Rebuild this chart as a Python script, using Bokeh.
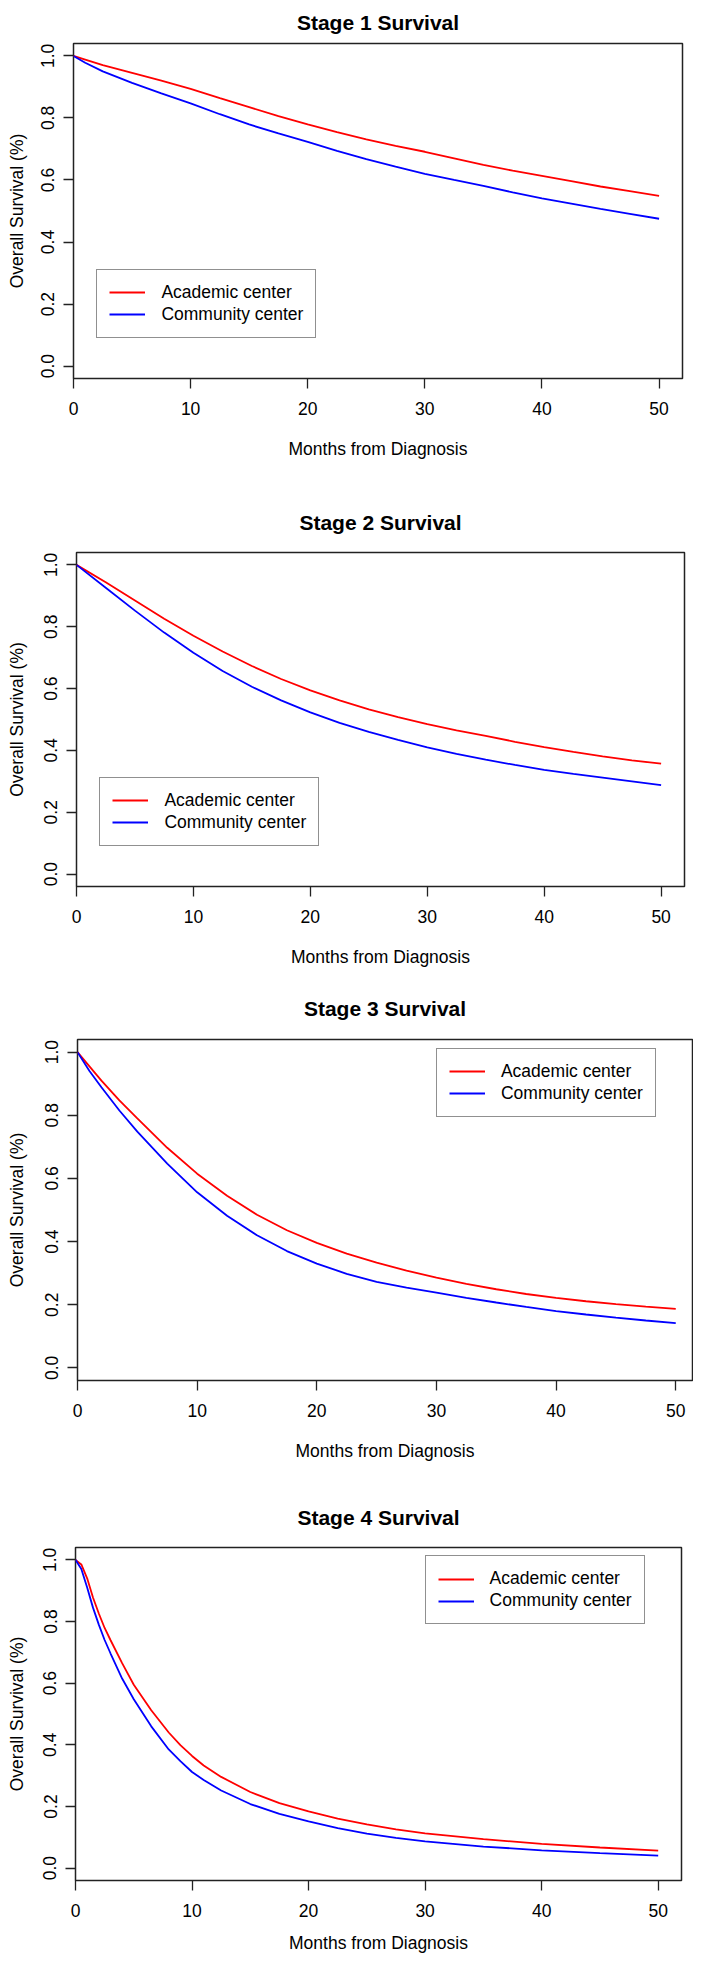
import math
from bokeh.plotting import figure
from bokeh.models import Range1d, FixedTicker, NumeralTickFormatter, Legend, LegendItem
from bokeh.layouts import column
from bokeh.embed import file_html
from bokeh.resources import INLINE

# ---------------- data ----------------
stage_titles = ["Stage 1 Survival", "Stage 2 Survival", "Stage 3 Survival", "Stage 4 Survival"]
series_names = ["Academic center", "Community center"]
x_label = "Months from Diagnosis"
y_label = "Overall Survival (%)"
x_ticks = [0, 10, 20, 30, 40, 50]
y_ticks = [0.0, 0.2, 0.4, 0.6, 0.8, 1.0]

months_stage1 = [0, 1, 2.5, 5, 7.5, 10, 12.5, 15, 17.5, 20, 22.5, 25, 27.5, 30, 32.5, 35, 37.5, 40, 42.5, 45, 47.5, 50]
academic_stage1 = [1.0, 0.988, 0.970, 0.945, 0.920, 0.894, 0.864, 0.835, 0.806, 0.779, 0.754, 0.731, 0.710, 0.691,
                   0.670, 0.649, 0.630, 0.613, 0.596, 0.579, 0.564, 0.549]
community_stage1 = [1.0, 0.978, 0.950, 0.913, 0.879, 0.847, 0.812, 0.779, 0.750, 0.723, 0.694, 0.667, 0.643, 0.620,
                    0.600, 0.581, 0.560, 0.541, 0.524, 0.507, 0.491, 0.475]

months_stage2 = [0, 2.5, 5, 7.5, 10, 12.5, 15, 17.5, 20, 22.5, 25, 27.5, 30, 32.5, 35, 37.5, 40, 42.5, 45, 47.5, 50]
academic_stage2 = [1.0, 0.944, 0.885, 0.826, 0.771, 0.720, 0.673, 0.631, 0.594, 0.562, 0.533, 0.508, 0.485,
                   0.465, 0.447, 0.428, 0.411, 0.395, 0.381, 0.368, 0.357]
community_stage2 = [1.0, 0.926, 0.852, 0.781, 0.716, 0.657, 0.606, 0.562, 0.523, 0.489, 0.460, 0.434, 0.410,
                    0.389, 0.370, 0.353, 0.337, 0.324, 0.312, 0.300, 0.288]

months_stage3 = [0, 1, 2, 3.5, 5, 7.5, 10, 12.5, 15, 17.5, 20, 22.5, 25, 27.5, 30, 32.5, 35, 37.5, 40, 42.5, 45, 47.5, 50]
academic_stage3 = [1.0, 0.955, 0.910, 0.847, 0.790, 0.697, 0.615, 0.545, 0.485, 0.436, 0.396, 0.362, 0.333, 0.308,
                   0.286, 0.266, 0.249, 0.234, 0.222, 0.211, 0.202, 0.194, 0.187]
community_stage3 = [1.0, 0.940, 0.889, 0.815, 0.748, 0.647, 0.556, 0.482, 0.420, 0.370, 0.330, 0.298, 0.272, 0.254,
                    0.238, 0.222, 0.207, 0.193, 0.180, 0.169, 0.159, 0.150, 0.142]

months_stage4 = [0, 0.5, 1, 1.5, 2, 2.5, 3, 4, 5, 6.5, 8, 9, 10, 11, 12.5, 15, 17.5, 20, 22.5, 25, 27.5, 30,
                 35, 40, 45, 50]
academic_stage4 = [1.0, 0.985, 0.940, 0.878, 0.826, 0.779, 0.740, 0.665, 0.595, 0.512, 0.440, 0.399, 0.364, 0.333,
                   0.296, 0.247, 0.211, 0.184, 0.161, 0.142, 0.126, 0.113, 0.094, 0.079, 0.067, 0.057]
community_stage4 = [1.0, 0.970, 0.910, 0.845, 0.790, 0.740, 0.697, 0.615, 0.548, 0.460, 0.385, 0.347, 0.312, 0.286,
                    0.252, 0.208, 0.176, 0.152, 0.130, 0.112, 0.098, 0.087, 0.070, 0.058, 0.049, 0.041]

# legend anchor (top-left corner, data units) per panel
legend_anchor = [(2, 0.3), (2, 0.3), (30, 1.0), (30, 1.0)]

# ---------------- layout / style ----------------
FONT = "Liberation Sans"
W = 693
geoms = [
    dict(h=480, l=73, r=11, t=43, b=102, xmax=52.0, ts=15, xs=21),
    dict(h=492, l=76, r=9, t=72, b=86, xmax=52.0, ts=34, xs=21),
    dict(h=494, l=77, r=1, t=67, b=86, xmax=51.4, ts=35, xs=21),
    dict(h=490, l=75, r=12, t=81, b=76, xmax=52.0, ts=33, xs=13),
]
LEG_PAD, LEG_SPACING, LEG_ROW = 12, 1, 20
LEG_H = 2 * LEG_PAD + 2 * LEG_ROW + LEG_SPACING


def make_panel(title, months, academic, community, g, anchor):
    p = figure(width=W, height=g["h"], x_range=Range1d(0, g["xmax"]), y_range=Range1d(-0.04, 1.04),
               output_backend="svg", toolbar_location=None, tools="",
               min_border_left=g["l"], min_border_right=g["r"],
               min_border_top=g["t"], min_border_bottom=g["b"])
    p.frame_align = False
    p.title.text = title
    p.title.align = "center"
    p.title.vertical_align = "top"
    p.title.standoff = g["ts"]
    p.title.text_font = FONT
    p.title.text_font_style = "bold"
    p.title.text_font_size = "21px"
    p.title.text_color = "black"

    p.xgrid.visible = False
    p.ygrid.visible = False
    p.background_fill_color = "white"
    p.border_fill_color = "white"
    p.outline_line_color = "#222222"
    p.outline_line_width = 1.5

    r1 = p.line(months, academic, line_color="#ff0000", line_width=1.8)
    r2 = p.line(months, community, line_color="#0000ff", line_width=1.8)

    for ax in (p.xaxis[0], p.yaxis[0]):
        ax.axis_line_color = None
        ax.major_tick_out = 10
        ax.major_tick_in = 0
        ax.major_tick_line_color = "#222222"
        ax.major_tick_line_width = 1.3
        ax.minor_tick_line_color = None
        ax.major_label_text_font = FONT
        ax.major_label_text_font_size = "17.5px"
        ax.major_label_text_color = "black"
        ax.axis_label_text_font = FONT
        ax.axis_label_text_font_size = "17.5px"
        ax.axis_label_text_font_style = "normal"
        ax.axis_label_text_color = "black"

    p.xaxis.ticker = FixedTicker(ticks=x_ticks)
    p.xaxis.axis_label = x_label
    p.xaxis.major_label_standoff = 13
    p.xaxis.axis_label_standoff = g["xs"]

    p.yaxis.ticker = FixedTicker(ticks=y_ticks)
    p.yaxis.formatter = NumeralTickFormatter(format="0.0")
    p.yaxis.axis_label = y_label
    p.yaxis.major_label_orientation = "parallel"
    p.yaxis.major_label_standoff = 9
    p.yaxis.axis_label_standoff = g["l"] - 61

    fw = W - g["l"] - g["r"]
    fh = g["h"] - g["t"] - g["b"]
    lx = anchor[0] / g["xmax"] * fw
    top_off = (anchor[1] + 0.04) / 1.08 * fh
    ly = top_off - LEG_H
    legend = Legend(items=[LegendItem(label=series_names[0], renderers=[r1]),
                           LegendItem(label=series_names[1], renderers=[r2])],
                    location=(lx, ly), padding=LEG_PAD, spacing=LEG_SPACING, margin=0,
                    glyph_width=36, glyph_height=LEG_ROW, label_height=LEG_ROW, label_standoff=16,
                    label_text_font=FONT, label_text_font_size="17.5px", label_text_color="black",
                    border_line_color="#222222", border_line_width=1.3,
                    background_fill_color="white", background_fill_alpha=1.0)
    p.add_layout(legend)
    return p


panels = [
    make_panel(stage_titles[0], months_stage1, academic_stage1, community_stage1, geoms[0], legend_anchor[0]),
    make_panel(stage_titles[1], months_stage2, academic_stage2, community_stage2, geoms[1], legend_anchor[1]),
    make_panel(stage_titles[2], months_stage3, academic_stage3, community_stage3, geoms[2], legend_anchor[2]),
    make_panel(stage_titles[3], months_stage4, academic_stage4, community_stage4, geoms[3], legend_anchor[3]),
]

layout = column(*panels, spacing=0)
open("out.html", "w").write(file_html(layout, INLINE))
